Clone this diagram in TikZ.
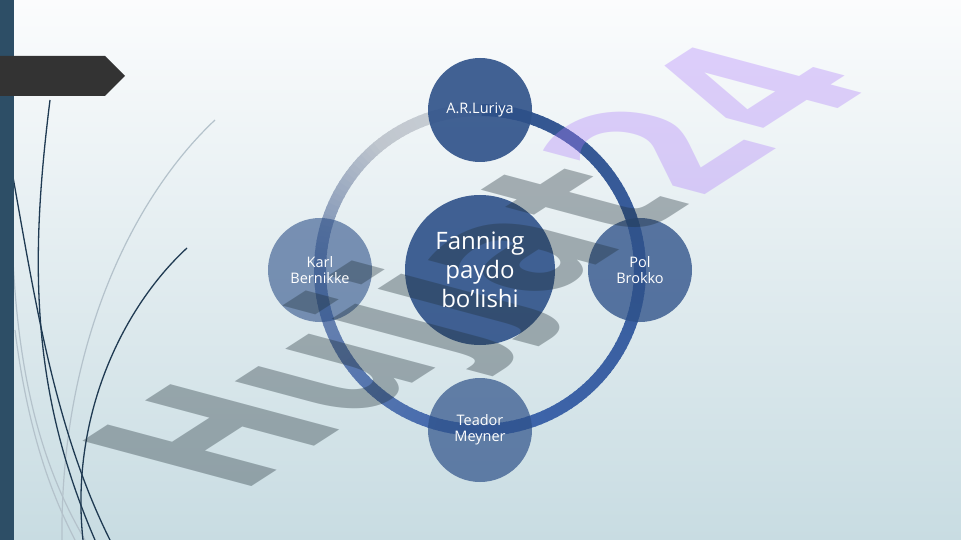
\documentclass[tikz,border=0pt]{standalone}
\usepackage{fontspec}
\setmainfont{Open Sans}
\newfontfamily\wmfont{DejaVu Sans}
\definecolor{bgtop}{HTML}{FBFCFD}
\definecolor{bgbot}{HTML}{C8DCE2}
\definecolor{barcol}{HTML}{2D4E66}
\definecolor{tagcol}{HTML}{333333}
\definecolor{nodeblue}{HTML}{2E5189}
\definecolor{ringA}{HTML}{33558E}
\definecolor{ringB}{HTML}{3F66AD}
\definecolor{ringC}{HTML}{6F87B0}
\definecolor{ringD}{HTML}{BFC6CE}
\definecolor{ringE}{HTML}{CDD2D7}
\definecolor{wmgray}{HTML}{1E2E36}
\definecolor{wmlav}{HTML}{AE7EFA}
\definecolor{wispdark}{HTML}{1F3A52}
\definecolor{wisplight}{HTML}{B4C2CB}
\tikzset{
  sat/.style={circle, minimum size=104pt, inner sep=0pt, fill=nodeblue},
  hub/.style={circle, minimum size=150pt, inner sep=0pt, fill=nodeblue, fill opacity=0.9},
  sattext/.style={text=white, align=center, inner sep=0pt, font=\fontsize{14.5}{16}\selectfont},
  hubtext/.style={text=white, align=center, inner sep=0pt, font=\fontsize{24}{29}\selectfont},
  ringseg/.style={line width=12pt, line cap=butt},
  wispd/.style={draw=wispdark, line width=1.3pt},
  wispl/.style={draw=wisplight, line width=1.2pt},
}
\begin{document}
\begin{tikzpicture}[x=1pt,y=-1pt]
\useasboundingbox (0,0) rectangle (961,540);
% background
\shade[top color=bgtop, bottom color=bgbot] (0,0) rectangle (961,540);
% wisps
\draw[wispl] (215,120) .. controls (130,200) and (60,350) .. (62,540);
\draw[wispl] (13,260) .. controls (20,400) and (50,480) .. (85,540);
\draw[wispl] (15,330) .. controls (30,450) and (60,510) .. (75,540);
\draw[wispd] (50,100) .. controls (30,260) and (30,390) .. (95,540);
\draw[wispd] (13,177) .. controls (35,300) and (55,430) .. (110,540);
\draw[wispd] (187,248) .. controls (120,310) and (70,420) .. (83,540);
% left bar and tag
\fill[barcol] (0,0) rectangle (14,540);
\fill[tagcol] (0,56) -- (105,56) -- (125,76) -- (105,96) -- (0,96) -- cycle;
% ring
\foreach \s/\e/\ca/\cb in {0/180/ringA/ringB, 180/270/ringB/ringC, 270/320/ringC/ringD, 320/360/ringD/ringE} {
  \pgfmathtruncatemacro\myn{(\e-\s)/2 - 1}
  \foreach \k in {0,...,\myn} {
    \pgfmathsetmacro\myt{\s+2*\k}
    \pgfmathtruncatemacro\myp{2*\k/(\e-\s)*100}
    \pgfmathsetmacro\myang{90-\myt}
    \pgfmathsetmacro\mysa{-\myang}
    \pgfmathsetmacro\myea{-\myang+2.6}
    \draw[ringseg, color=\cb!\myp!\ca] ({480+160*cos(\myang)},{270-160*sin(\myang)}) arc[start angle=\mysa, end angle=\myea, radius=160];
  }
}
% centre and satellites (discs)
\node[hub] (hub) at (480,270) {};
\node[sat, fill opacity=0.9] (luriya) at (480,110) {};
\node[sat, fill opacity=0.78] (brokko) at (640,270) {};
\node[sat, fill opacity=0.7] (meyner) at (480,430) {};
\node[sat, fill opacity=0.6] (bernikke) at (320,270) {};
% watermark
\begin{scope}[cm={1.345,0.867,-2.318,0.621,(239,495)}]
\node[transform shape, anchor=base west, inner sep=0pt, text=wmgray, text opacity=0.35,
  font=\wmfont\bfseries\fontsize{100}{100}\selectfont] (wm) at (0,0) {Hujjat\textcolor{wmlav}{24}};
\end{scope}
% texts
\node[hubtext] (hubt) at (hub.center) {Fanning\\paydo\\bo’lishi};
\node[sattext] (luriyat) at (luriya.center) {A.R.Luriya};
\node[sattext] (brokkot) at (brokko.center) {Pol\\Brokko};
\node[sattext] (meynert) at (meyner.center) {Teador\\Meyner};
\node[sattext] (bernikket) at (bernikke.center) {Karl\\Bernikke};
\end{tikzpicture}
\end{document}
